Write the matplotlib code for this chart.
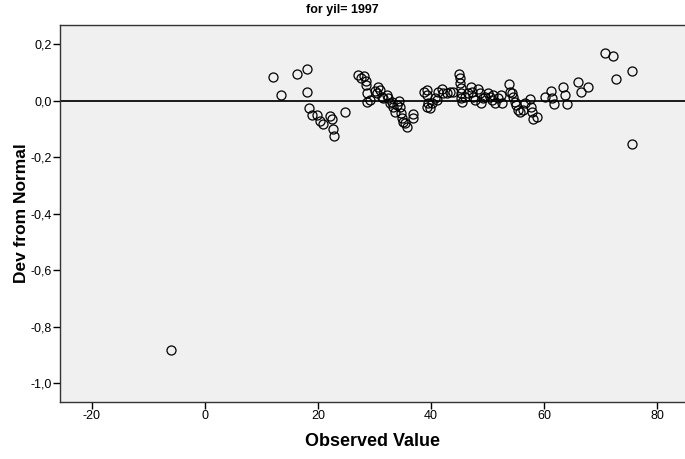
import matplotlib
matplotlib.use("Agg")
import matplotlib.pyplot as plt
from matplotlib.ticker import FuncFormatter

plt.rcParams['font.family'] = ['Liberation Sans', 'DejaVu Sans']
plt.rcParams['axes.unicode_minus'] = False

observed = [11.98, 13.45, 16.34, 18.05, 18.10, 18.40, 18.94, 19.82, 20.35, 20.88,
            22.07, 22.53, 22.71, 22.88, 24.73, 27.08, 27.56, 28.19, 28.44, 28.55,
            28.62, 28.67, 29.15, 30.09, 30.39, 30.67, 30.97, 31.27, 31.56, 32.16,
            32.44, 32.74, 33.04, 33.33, 33.63, 33.93, 34.34, 34.51, 34.69, 34.81,
            35.10, 35.40, 35.80, 36.76, 36.76, 38.81, 39.24, 39.24, 39.52, 39.35,
            39.82, 40.23, 40.71, 41.01, 41.29, 41.89, 42.18, 42.78, 43.36, 43.95,
            44.96, 45.13, 45.13, 45.26, 45.31, 45.31, 45.43, 46.02, 46.50, 47.08,
            47.20, 47.49, 47.79, 48.37, 48.67, 48.85, 49.26, 49.56, 50.14, 50.44,
            50.74, 51.03, 51.33, 51.91, 52.34, 52.62, 53.86, 53.98, 54.28, 54.57,
            54.87, 55.04, 55.45, 55.75, 56.23, 56.64, 57.52, 57.65, 57.82, 58.11,
            58.71, 60.18, 61.19, 61.36, 61.77, 63.31, 63.72, 64.12, 66.07, 66.55,
            67.84, 70.80, 72.16, 72.74, 75.63, 75.63, -6.02]
dev_from_normal = [0.086, 0.021, 0.097, 0.112, 0.031, -0.025, -0.051, -0.051, -0.072, -0.082,
                   -0.054, -0.065, -0.100, -0.125, -0.039, 0.092, 0.080, 0.088, 0.072, 0.057,
                   0.027, -0.002, 0.002, 0.036, 0.027, 0.048, 0.039, 0.015, 0.010, 0.021,
                   0.010, -0.007, -0.002, -0.020, -0.038, -0.014, 0.001, -0.020, -0.044, -0.061,
                   -0.073, -0.079, -0.091, -0.046, -0.061, 0.033, 0.039, 0.021, -0.008, -0.020,
                   -0.026, -0.008, 0.010, 0.004, 0.033, 0.041, 0.027, 0.029, 0.031, 0.032,
                   0.096, 0.080, 0.063, 0.045, 0.027, 0.010, -0.002, 0.015, 0.027, 0.051,
                   0.033, 0.015, 0.004, 0.041, 0.027, -0.008, 0.010, 0.015, 0.027, 0.015,
                   0.004, 0.021, -0.008, 0.010, 0.021, -0.008, 0.060, 0.033, 0.027, 0.015,
                   -0.002, -0.014, -0.032, -0.038, -0.032, -0.008, 0.007, -0.020, -0.040, -0.065,
                   -0.058, 0.015, 0.036, 0.010, -0.011, 0.051, 0.021, -0.011, 0.068, 0.033,
                   0.051, 0.171, 0.158, 0.077, 0.105, -0.153, -0.883]

x_ticks = [-20, 0, 20, 40, 60, 80]
y_ticks = [-1.0, -0.8, -0.6, -0.4, -0.2, 0.0, 0.2]

fig = plt.figure(figsize=(6.85, 4.59), dpi=100)
ax = fig.add_axes([60/685, 1 - 402/459, 1 - 60/685, (402 - 25)/459])
ax.set_facecolor('#F0F0F0')

ax.axhline(0, color='#1a1a1a', lw=1.4, zorder=1)
ax.plot(observed, dev_from_normal, linestyle='none', marker='o', markersize=6.5,
        markerfacecolor='none', markeredgecolor='black', markeredgewidth=0.9, zorder=2)

ax.set_xlim(-25.66, 84.96)
ax.set_ylim(-1.0655, 0.269)
ax.set_xticks(x_ticks)
ax.set_yticks(y_ticks)
ax.yaxis.set_major_formatter(FuncFormatter(lambda v, p: f"{v:.1f}".replace('.', ',').replace('-0,0', '0,0')))
ax.tick_params(direction='out', length=5, width=1, labelsize=9, colors='black', pad=1)

for s in ['left', 'bottom', 'top']:
    ax.spines[s].set_color('#333333')
    ax.spines[s].set_linewidth(1.0)
ax.spines['right'].set_visible(False)

ax.set_xlabel('Observed Value', fontsize=13, fontweight='bold', labelpad=8)
ax.set_ylabel('Dev from Normal', fontsize=12.5, fontweight='bold', labelpad=1)
fig.suptitle('for yil= 1997', fontsize=9, fontweight='bold', x=0.5, y=1 - 4/459, va='top')

fig.savefig('out.png', dpi=100)
